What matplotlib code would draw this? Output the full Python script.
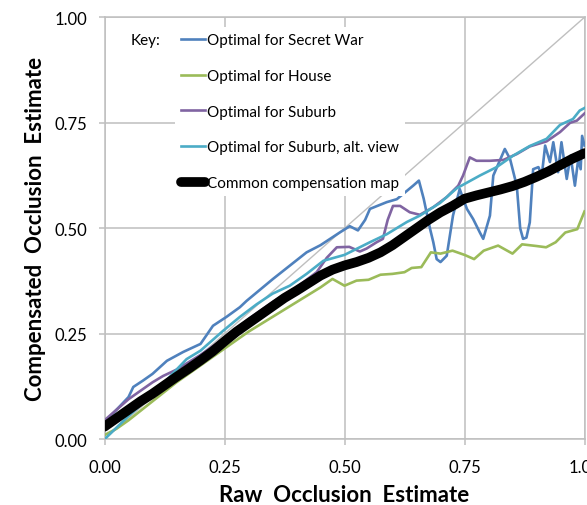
import matplotlib
matplotlib.use("Agg")
import matplotlib.pyplot as plt
import numpy as np

# values (raw estimate -> compensated estimate)
secret_x = [0.0, 0.025, 0.05, 0.06, 0.08, 0.1, 0.13, 0.164, 0.2, 0.226, 0.254, 0.282, 0.296,
            0.351, 0.421, 0.45, 0.49, 0.511, 0.528, 0.543, 0.553, 0.588, 0.609, 0.643, 0.655,
            0.665, 0.678, 0.685, 0.692, 0.7, 0.713, 0.726, 0.74, 0.755, 0.768, 0.782, 0.789,
            0.803, 0.81, 0.834, 0.845, 0.859, 0.866, 0.872, 0.879, 0.886, 0.893, 0.904, 0.911,
            0.918, 0.928, 0.935, 0.945, 0.952, 0.963, 0.971, 0.98, 0.987, 0.992, 0.995, 1.0]
secret_y = [0.04, 0.07, 0.1, 0.124, 0.139, 0.155, 0.186, 0.207, 0.226, 0.269, 0.29, 0.313, 0.328,
            0.38, 0.443, 0.46, 0.49, 0.505, 0.495, 0.52, 0.546, 0.562, 0.569, 0.601, 0.613,
            0.57, 0.5, 0.467, 0.427, 0.42, 0.435, 0.53, 0.593, 0.546, 0.522, 0.49, 0.475,
            0.53, 0.625, 0.688, 0.664, 0.6, 0.5, 0.475, 0.478, 0.514, 0.64, 0.645, 0.625,
            0.696, 0.657, 0.704, 0.633, 0.704, 0.617, 0.672, 0.601, 0.664, 0.64, 0.719, 0.696]

house_x = [0.0, 0.025, 0.05, 0.1, 0.15, 0.2, 0.25, 0.3, 0.35, 0.4, 0.45, 0.475, 0.5, 0.525,
           0.55, 0.575, 0.6, 0.625, 0.64, 0.66, 0.68, 0.7, 0.725, 0.75, 0.77, 0.79, 0.82,
           0.85, 0.87, 0.9, 0.92, 0.94, 0.96, 0.985, 1.0]
house_y = [0.01, 0.025, 0.045, 0.09, 0.135, 0.175, 0.215, 0.255, 0.29, 0.325, 0.36, 0.38, 0.364,
           0.376, 0.378, 0.39, 0.392, 0.396, 0.406, 0.408, 0.443, 0.44, 0.447, 0.437, 0.427,
           0.447, 0.459, 0.44, 0.462, 0.458, 0.455, 0.467, 0.49, 0.498, 0.54]

suburb_x = [0.0, 0.025, 0.05, 0.075, 0.1, 0.122, 0.15, 0.2, 0.25, 0.3, 0.35, 0.4, 0.442, 0.463,
            0.484, 0.51, 0.532, 0.546, 0.567, 0.58, 0.59, 0.601, 0.616, 0.636, 0.657, 0.685,
            0.713, 0.737, 0.747, 0.761, 0.775, 0.803, 0.831, 0.859, 0.886, 0.921, 0.949, 0.97,
            0.984, 1.0]
suburb_y = [0.045, 0.07, 0.095, 0.115, 0.135, 0.15, 0.165, 0.2, 0.24, 0.285, 0.325, 0.36, 0.396,
            0.43, 0.455, 0.456, 0.445, 0.452, 0.467, 0.475, 0.52, 0.553, 0.553, 0.538, 0.532,
            0.55, 0.574, 0.601, 0.625, 0.668, 0.66, 0.66, 0.662, 0.676, 0.694, 0.706, 0.728,
            0.75, 0.755, 0.772]

alt_x = [0.0, 0.018, 0.05, 0.074, 0.1, 0.125, 0.15, 0.171, 0.2, 0.247, 0.282, 0.317, 0.35, 0.386,
         0.421, 0.456, 0.5, 0.553, 0.588, 0.63, 0.657, 0.678, 0.699, 0.734, 0.782, 0.817, 0.851,
         0.886, 0.921, 0.949, 0.976, 0.99, 1.0]
alt_y = [0.0, 0.02, 0.055, 0.08, 0.105, 0.135, 0.165, 0.19, 0.21, 0.257, 0.29, 0.32, 0.345, 0.364,
         0.392, 0.423, 0.437, 0.467, 0.486, 0.515, 0.53, 0.545, 0.56, 0.595, 0.625, 0.645, 0.672,
         0.695, 0.712, 0.745, 0.759, 0.779, 0.785]

common_x = [0.0, 0.025, 0.05, 0.075, 0.1, 0.125, 0.15, 0.175, 0.2, 0.225, 0.25, 0.275, 0.3, 0.325,
            0.35, 0.375, 0.4, 0.425, 0.45, 0.475, 0.5, 0.525, 0.55, 0.575, 0.6, 0.625, 0.65,
            0.675, 0.7, 0.725, 0.75, 0.775, 0.8, 0.825, 0.85, 0.875, 0.9, 0.925, 0.95, 0.975, 1.0]
common_y = [0.03, 0.05, 0.07, 0.09, 0.108, 0.128, 0.148, 0.167, 0.187, 0.208, 0.232, 0.255, 0.275,
            0.295, 0.315, 0.335, 0.352, 0.37, 0.388, 0.402, 0.412, 0.42, 0.43, 0.443, 0.46, 0.48,
            0.5, 0.52, 0.538, 0.553, 0.57, 0.578, 0.585, 0.592, 0.6, 0.61, 0.622, 0.635, 0.65,
            0.665, 0.678]

ticks = [0.0, 0.25, 0.5, 0.75, 1.0]
tick_labels = ["0.00", "0.25", "0.50", "0.75", "1.00"]

plt.rcParams['font.family'] = ['Lato', 'DejaVu Sans']

fig = plt.figure(figsize=(5.87, 5.06), dpi=100)
ax = fig.add_axes([104.5/587, 1 - 440.3/506, 480/587, 422/506])

gridc = '#BFBFBF'
ax.plot([0, 1], [0, 1], color=gridc, lw=1.0, zorder=1)
ax.plot(secret_x, secret_y, color='#4F81BD', lw=1.9, label='Optimal for Secret War', zorder=3)
ax.plot(house_x, house_y, color='#9BBB59', lw=1.9, label='Optimal for House', zorder=3)
ax.plot(suburb_x, suburb_y, color='#8064A2', lw=1.9, label='Optimal for Suburb', zorder=3)
ax.plot(alt_x, alt_y, color='#4BACC6', lw=1.9, label='Optimal for Suburb, alt. view', zorder=3)
ax.plot(common_x, common_y, color='black', lw=7, solid_capstyle='round',
        label='Common compensation map', zorder=4)

ax.set_xlim(0, 1)
ax.set_ylim(0, 1)
ax.set_xticks(ticks)
ax.set_xticklabels(tick_labels)
ax.set_yticks(ticks)
ax.set_yticklabels(tick_labels)
ax.grid(True, color=gridc, lw=1.1, zorder=0)
for s in ax.spines.values():
    s.set_color(gridc)
    s.set_linewidth(1.1)
ax.tick_params(axis='both', colors=gridc, length=4.5, width=1.1, labelcolor='black',
               labelsize=12)
ax.tick_params(axis='x', pad=10)
ax.tick_params(axis='y', pad=8)

ax.set_xlabel("Raw  Occlusion  Estimate", fontsize=16, fontweight='bold', labelpad=6)
ax.set_ylabel("Compensated  Occlusion  Estimate", fontsize=16, fontweight='bold', labelpad=6)

leg = ax.legend(loc='upper left', bbox_to_anchor=(0.13, 0.995), frameon=True, fontsize=11,
                handlelength=1.6, handletextpad=0.1, labelspacing=1.42, borderpad=0.4,
                fancybox=False)
leg.get_frame().set_facecolor('white')
leg.get_frame().set_edgecolor('none')
leg.get_frame().set_alpha(1)
leg.set_zorder(5)
ax.text(0.055, 0.947, "Key:", transform=ax.transAxes, fontsize=11, va='center', ha='left',
        zorder=6)

fig.savefig('out.png', dpi=100)
